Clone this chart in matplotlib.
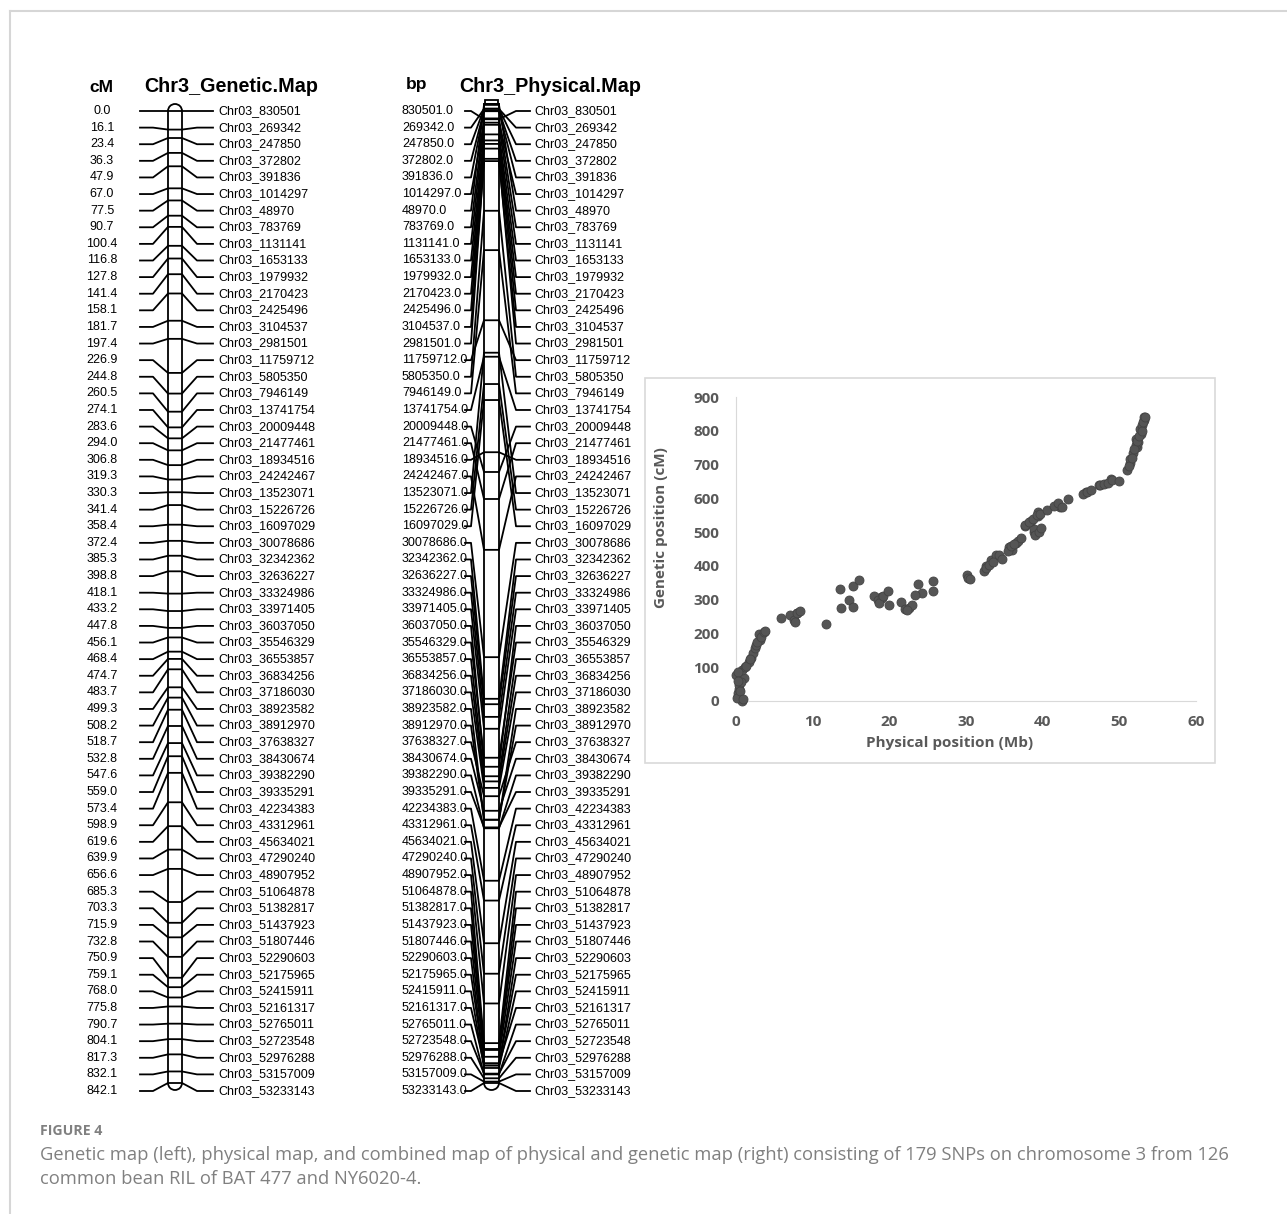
import numpy as np
import matplotlib
matplotlib.use('Agg')
import matplotlib.pyplot as plt
from matplotlib.patches import Arc, Rectangle

# Chr3 markers, in map order (genetic position, cM)
cm_pos = [0.0, 16.1, 23.4, 36.3, 47.9, 67.0, 77.5, 90.7, 100.4, 116.8,
          127.8, 141.4, 158.1, 181.7, 197.4, 226.9, 244.8, 260.5, 274.1, 283.6,
          294.0, 306.8, 319.3, 330.3, 341.4, 358.4, 372.4, 385.3, 398.8, 418.1,
          433.2, 447.8, 456.1, 468.4, 474.7, 483.7, 499.3, 508.2, 518.7, 532.8,
          547.6, 559.0, 573.4, 598.9, 619.6, 639.9, 656.6, 685.3, 703.3, 715.9,
          732.8, 750.9, 759.1, 768.0, 775.8, 790.7, 804.1, 817.3, 832.1, 842.1]

# physical position of the same markers (bp)
bp_pos = [830501, 269342, 247850, 372802, 391836, 1014297, 48970, 783769, 1131141, 1653133,
          1979932, 2170423, 2425496, 3104537, 2981501, 11759712, 5805350, 7946149, 13741754, 20009448,
          21477461, 18934516, 24242467, 13523071, 15226726, 16097029, 30078686, 32342362, 32636227, 33324986,
          33971405, 36037050, 35546329, 36553857, 36834256, 37186030, 38923582, 38912970, 37638327, 38430674,
          39382290, 39335291, 42234383, 43312961, 45634021, 47290240, 48907952, 51064878, 51382817, 51437923,
          51807446, 52290603, 52175965, 52415911, 52161317, 52765011, 52723548, 52976288, 53157009, 53233143]

marker_names = ['Chr03_%d' % b for b in bp_pos]

# extra SNPs of the scatter plot (Mb, cM)
extra_mb = [0.1, 0.5, 0.6, 0.3, 0.9, 0.2, 1.3, 1.8, 2.6, 2.8, 3.3, 3.6, 3.8,
            7.0, 7.5, 8.0, 8.3, 7.7, 14.8, 15.2, 18.0, 18.5, 19.0, 18.7, 19.2, 19.8,
            22.0, 22.5, 23.0, 22.3, 23.7, 23.3, 25.7, 25.7, 30.3, 30.5,
            32.6, 33.0, 33.5, 34.3, 34.7, 35.5, 35.9, 36.3, 37.7, 38.2, 38.7, 39.2, 39.6,
            39.0, 39.5, 39.8, 40.6, 41.5, 42.0, 42.5, 45.3, 45.8, 46.3, 47.5, 48.0, 48.5,
            49.0, 50.0, 51.2, 51.6, 51.9, 52.3, 52.6, 52.9, 53.1, 53.3]
extra_cm = [10, 30, 55, 85, 5, 60, 105, 125, 165, 175, 190, 205, 208,
            255, 240, 262, 267, 233, 300, 278, 310, 300, 305, 290, 312, 327,
            272, 275, 283, 268, 346, 315, 355, 325, 365, 362,
            393, 403, 412, 432, 420, 445, 460, 465, 520, 530, 540, 550, 555,
            492, 500, 512, 565, 578, 585, 575, 612, 618, 625, 638, 642, 645,
            655, 650, 695, 720, 745, 770, 785, 800, 825, 840]

fig = plt.figure(figsize=(12.87, 12.14), dpi=100)
ax = fig.add_axes([0, 0, 1, 1])
ax.set_xlim(0, 1287)
ax.set_ylim(1214, 0)
ax.axis('off')

narrow = ['Liberation Sans Narrow', 'Liberation Sans', 'DejaVu Sans']
hfont = ['Liberation Sans', 'DejaVu Sans']
sfont = ['Open Sans', 'DejaVu Sans']
lw = 1.3

# frame of the figure panel
ax.plot([10, 1287], [11, 11], color='#d6d6d6', lw=1.5)
ax.plot([10, 10], [11, 1214], color='#d6d6d6', lw=1.5)

n = len(cm_pos)
rows = np.linspace(111, 1091, n)

# ---------- genetic map ----------
g_top, g_bot = 111, 1083
def y_cm(c):
    return g_top + c / max(cm_pos) * (g_bot - g_top)

bl, br = 168, 182
ax.text(101, 87, 'cM', ha='center', va='center', fontsize=12.5, fontweight='bold', family=hfont)
ax.text(231, 87, 'Chr3_Genetic.Map', ha='center', va='center', fontsize=14.2, fontweight='bold', family=hfont)
ax.plot([bl, bl], [g_top, g_bot], color='k', lw=lw)
ax.plot([br, br], [g_top, g_bot], color='k', lw=lw)
ax.add_patch(Arc(((bl + br) / 2, g_top), br - bl, 14, theta1=180, theta2=360, color='k', lw=lw))
ax.add_patch(Arc(((bl + br) / 2, g_bot), br - bl, 14, theta1=0, theta2=180, color='k', lw=lw))
for c, yr, name in zip(cm_pos, rows, marker_names):
    yt = y_cm(c)
    ax.text(102, yr, '%.1f' % c, ha='center', va='center', fontsize=9, family=narrow)
    ax.plot([140, 153, bl, br, 197, 213], [yr, yr, yt, yt, yr, yr], color='k', lw=lw)
    ax.text(218, yr, name, ha='left', va='center', fontsize=9, family=narrow)

# ---------- physical map ----------
p_top, p_bot = 104, 1083
def y_bp(b):
    return p_top + b / max(bp_pos) * (p_bot - p_top)

pl, pr = 484, 499
ax.text(417, 85, 'bp', ha='center', va='center', fontsize=12.5, fontweight='bold', family=hfont)
ax.text(550, 87, 'Chr3_Physical.Map', ha='center', va='center', fontsize=14.2, fontweight='bold', family=hfont)
ax.plot([pl, pl], [p_top, p_bot], color='k', lw=lw)
ax.plot([pr, pr], [p_top, p_bot], color='k', lw=lw)
ax.plot([pl, pr], [p_top, p_top], color='k', lw=lw)
ax.add_patch(Rectangle((pl + 1, p_top - 4), pr - pl - 2, 4, fill=False, color='k', lw=lw))
ax.add_patch(Arc(((pl + pr) / 2, p_bot), pr - pl, 14, theta1=0, theta2=180, color='k', lw=lw))
for b, yr, name in zip(bp_pos, rows, marker_names):
    yt = y_bp(b)
    ax.text(402, yr, '%d.0' % b, ha='left', va='center', fontsize=9, family=narrow)
    ax.plot([465, 471, pl, pr, 516, 530], [yr, yr, yt, yt, yr, yr], color='k', lw=lw)
    ax.text(534, yr, name, ha='left', va='center', fontsize=9, family=narrow)

# ---------- combined map (scatter) ----------
ax.add_patch(Rectangle((645, 378), 570, 385, fill=False, edgecolor='#d9d9d9', lw=1.2))
sax = fig.add_axes([736 / 1287, 1 - 701 / 1214, 460 / 1287, 304 / 1214])
mb = list(np.array(bp_pos) / 1e6) + extra_mb
cm = cm_pos + extra_cm
sax.scatter(mb, cm, s=42, color='#555555', edgecolors='#444444', linewidths=0.6, zorder=3, clip_on=False)
sax.set_xlim(0, 60)
sax.set_ylim(0, 900)
sax.set_xticks(range(0, 61, 10))
sax.set_yticks(range(0, 901, 100))
for side in ['top', 'right']:
    sax.spines[side].set_visible(False)
for side in ['left', 'bottom']:
    sax.spines[side].set_color('#d9d9d9')
sax.tick_params(axis='y', length=0, labelsize=11, labelcolor='#595959', pad=12)
sax.tick_params(axis='x', length=0, labelsize=11, labelcolor='#595959', pad=10)
for lab in sax.get_xticklabels() + sax.get_yticklabels():
    lab.set_fontweight('bold')
    lab.set_family(sfont)
sax.set_xlabel('Physical position (Mb)', fontsize=11, color='#595959', fontweight='bold', family=sfont)
sax.xaxis.set_label_coords(0.465, -0.115)
sax.set_ylabel('Genetic position (cM)', fontsize=11, color='#595959', fontweight='bold', family=sfont)
sax.yaxis.set_label_coords(-0.148, 0.57)

# ---------- caption ----------
ax.text(40, 1131, 'FIGURE 4', ha='left', va='center', fontsize=10.2, fontweight='bold', color='#808080', family=sfont)
ax.text(40, 1155, 'Genetic map (left), physical map, and combined map of physical and genetic map (right) consisting of 179 SNPs on chromosome 3 from 126',
        ha='left', va='center', fontsize=13.2, color='#808080', family=sfont)
ax.text(40, 1179, 'common bean RIL of BAT 477 and NY6020-4.',
        ha='left', va='center', fontsize=13.2, color='#808080', family=sfont)

plt.savefig('out.png', dpi=100)
